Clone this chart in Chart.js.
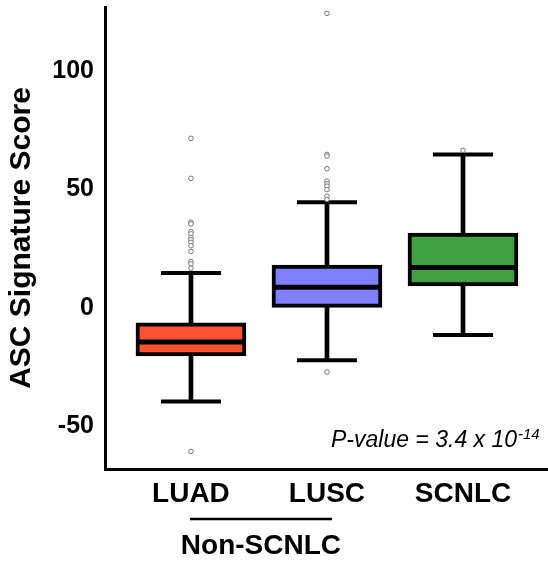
<!DOCTYPE html>
<html>
<head>
<meta charset="utf-8">
<script src="https://cdn.jsdelivr.net/npm/chart.js@4.4.1/dist/chart.umd.min.js"></script>
<style>
html,body{margin:0;padding:0;background:#fff;}
#wrap{position:relative;width:548px;height:561px;}
</style>
</head>
<body>
<div id="wrap"><canvas id="c" width="548" height="561"></canvas></div>
<script>
// ---- data ----
const categories = ['LUAD', 'LUSC', 'SCNLC'];
const whiskerLow = [-39.4, -22.0, -11.4];
const q1 = [-20.2, 0.3, 9.3];
const median = [-14.3, 8.8, 17.1];
const q3 = [-6.2, 18.1, 31.6];
const whiskerHigh = [14.8, 44.6, 64.8];
const outliersLUAD = [71.6, 54.7, 36.2, 35.5, 32.3, 31.3, 29.8, 28.8, 27.7, 26.3, 23.9, 19.6, 18.6, 16.8, -60.5];
const outliersLUSC = [124.3, 64.8, 64.1, 58.8, 53.5, 52.4, 51.4, 50.0, 47.2, 45.8, -27.0];
const outliersSCNLC = [66.5];
const yTicks = [-50, 0, 50, 100];
const boxColors = ['#FF5233', '#7F7FFF', '#409F40'];
const groupLabel = 'Non-SCNLC';
const pText = 'P-value = 3.4 x 10';
const pExp = '-14';

const pos = categories.map((_, i) => i + 1);
const outlierPts = [];
[outliersLUAD, outliersLUSC, outliersSCNLC].forEach((arr, i) => arr.forEach(v => outlierPts.push({x: pos[i], y: v})));

const FONT = "'Liberation Sans', Arial, sans-serif";

const annot = {
  id: 'annot',
  afterDraw(chart) {
    const ctx = chart.ctx;
    const xs = chart.scales.x;
    ctx.save();
    // group bracket
    const x1 = xs.getPixelForValue(pos[0]) - 1;
    const x2 = xs.getPixelForValue(pos[1]) + 5;
    ctx.strokeStyle = '#000';
    ctx.lineWidth = 2.5;
    ctx.beginPath();
    ctx.moveTo(x1, 519);
    ctx.lineTo(x2, 519);
    ctx.stroke();
    ctx.fillStyle = '#000';
    ctx.font = 'bold 28px ' + FONT;
    ctx.textAlign = 'center';
    ctx.textBaseline = 'alphabetic';
    ctx.fillText(groupLabel, (x1 + x2) / 2, 554);
    // p-value
    ctx.font = 'italic 23px ' + FONT;
    ctx.textAlign = 'left';
    ctx.fillText(pText, 331, 447);
    const w = ctx.measureText(pText).width;
    ctx.font = 'italic 15px ' + FONT;
    ctx.fillText(pExp, 331 + w + 1, 439);
    ctx.restore();
  }
};

new Chart(document.getElementById('c'), {
  type: 'bar',
  data: {
    datasets: [
      {
        type: 'bar',
        data: pos.map((p, i) => ({x: p, y: [whiskerLow[i], whiskerHigh[i]]})),
        backgroundColor: '#000',
        borderWidth: 0,
        barThickness: 4,
        grouped: false,
        order: 5
      },
      {
        type: 'bar',
        data: pos.map((p, i) => ({x: p, y: [q1[i], q3[i]]})),
        backgroundColor: boxColors,
        borderColor: '#000',
        borderWidth: 4,
        borderSkipped: false,
        barThickness: 110,
        grouped: false,
        order: 4
      },
      {
        type: 'scatter',
        data: pos.map((p, i) => ({x: p, y: median[i]})),
        pointStyle: 'line',
        pointRadius: 54,
        borderColor: '#000',
        borderWidth: 5,
        clip: false,
        order: 2
      },
      {
        type: 'scatter',
        data: pos.flatMap((p, i) => [{x: p, y: whiskerLow[i]}, {x: p, y: whiskerHigh[i]}]),
        pointStyle: 'line',
        pointRadius: 30,
        borderColor: '#000',
        borderWidth: 4,
        clip: false,
        order: 3
      },
      {
        type: 'scatter',
        data: outlierPts,
        pointStyle: 'circle',
        pointRadius: 2.3,
        borderColor: '#777',
        backgroundColor: '#fff',
        borderWidth: 1,
        clip: false,
        order: 1
      }
    ]
  },
  options: {
    responsive: false,
    animation: false,
    layout: {autoPadding: false, padding: {top: 7, left: 0, right: 0, bottom: 0}},
    plugins: {legend: {display: false}, tooltip: {enabled: false}},
    scales: {
      x: {
        type: 'linear',
        offset: false,
        min: 0.368,
        max: 3.625,
        grid: {display: false, drawTicks: false},
        border: {display: true, color: '#000', width: 3},
        afterBuildTicks: s => { s.ticks = pos.map(v => ({value: v})); },
        afterFit: s => { s.height = 92; s.paddingLeft = 0; s.paddingRight = 0; },
        ticks: {
          padding: 8,
          color: '#000',
          font: {family: FONT, size: 28, weight: 'bold'},
          callback: (v, i) => categories[i]
        }
      },
      y: {
        min: -67.9,
        max: 127.0,
        grid: {display: false, drawTicks: false},
        border: {display: true, color: '#000', width: 3},
        afterBuildTicks: s => { s.ticks = yTicks.map(v => ({value: v})); },
        afterFit: s => { s.width = 105; s.paddingTop = 0; s.paddingBottom = 0; },
        ticks: {
          padding: 11,
          color: '#000',
          font: {family: FONT, size: 25, weight: 'bold'}
        },
        title: {
          display: true,
          text: 'ASC Signature Score',
          color: '#000',
          font: {family: FONT, size: 30, weight: 'bold'},
          padding: {top: 4, bottom: 0}
        }
      }
    }
  },
  plugins: [annot]
});
</script>
</body>
</html>
